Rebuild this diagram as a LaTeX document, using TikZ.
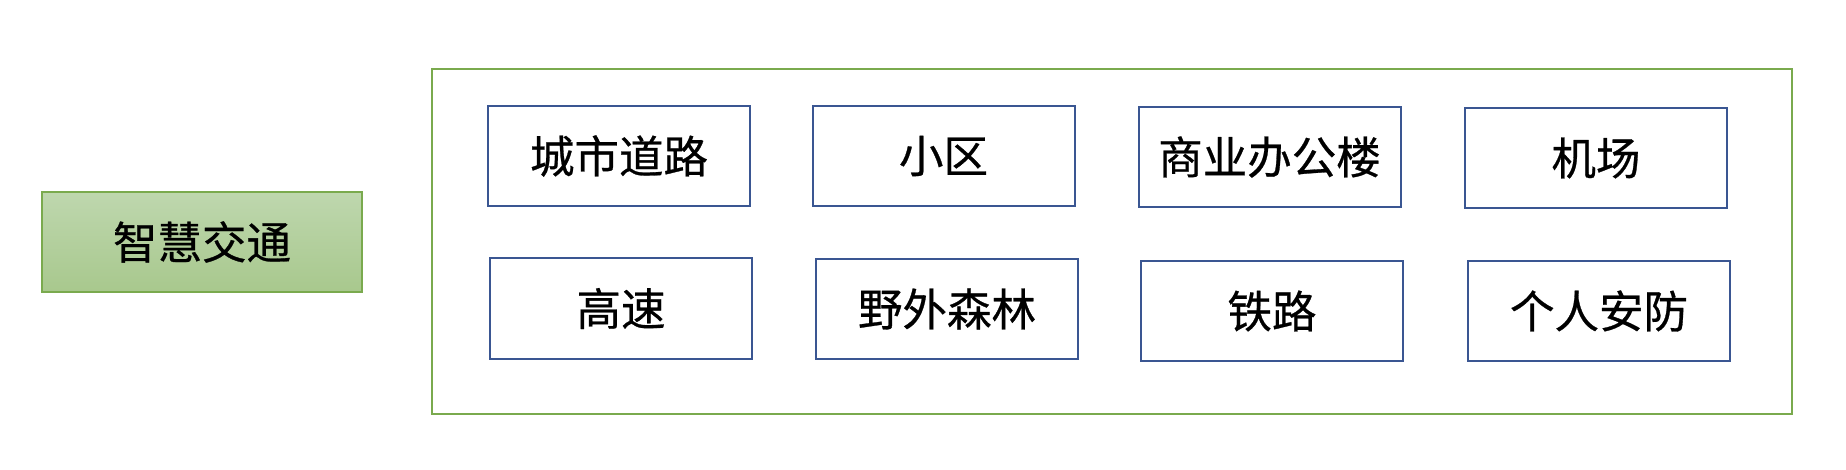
\documentclass[tikz,border=0pt]{standalone}
\usepackage{fontspec}
\newfontfamily\cjk{Noto Sans CJK SC}[FakeBold=0.6]
\definecolor{gtop}{RGB}{190,215,174}
\definecolor{gbot}{RGB}{168,200,141}
\definecolor{gedge}{RGB}{122,170,78}
\definecolor{bedge}{RGB}{58,86,146}
\tikzset{
  catbox/.style={draw=bedge, line width=2pt, fill=white, minimum width=262pt, minimum height=100pt, inner sep=0pt, font=\cjk\fontsize{44.5}{50}\selectfont},
  mainbox/.style={draw=gedge, line width=1.3pt, top color=gtop, bottom color=gbot, minimum width=320pt, minimum height=100pt, inner sep=0pt, font=\cjk\fontsize{44.5}{50}\selectfont},
  frame/.style={draw=gedge, line width=2pt}
}
\begin{document}
\begin{tikzpicture}[x=1pt,y=-1pt]
\useasboundingbox (0,0) rectangle (1846,470);
\node[mainbox] (main) at (202,242) {智慧交通};
\node[frame, minimum width=1360pt, minimum height=345pt, inner sep=0pt] (outer) at (1112,241.5) {};
\node[catbox] (b1) at (619,156) {城市道路};
\node[catbox] (b2) at (943.5,156) {小区};
\node[catbox] (b3) at (1269.5,157) {商业办公楼};
\node[catbox] (b4) at (1596,158) {机场};
\node[catbox] (b5) at (621,308.5) {高速};
\node[catbox] (b6) at (947,309) {野外森林};
\node[catbox] (b7) at (1272,311) {铁路};
\node[catbox] (b8) at (1599,311) {个人安防};
\end{tikzpicture}
\end{document}
